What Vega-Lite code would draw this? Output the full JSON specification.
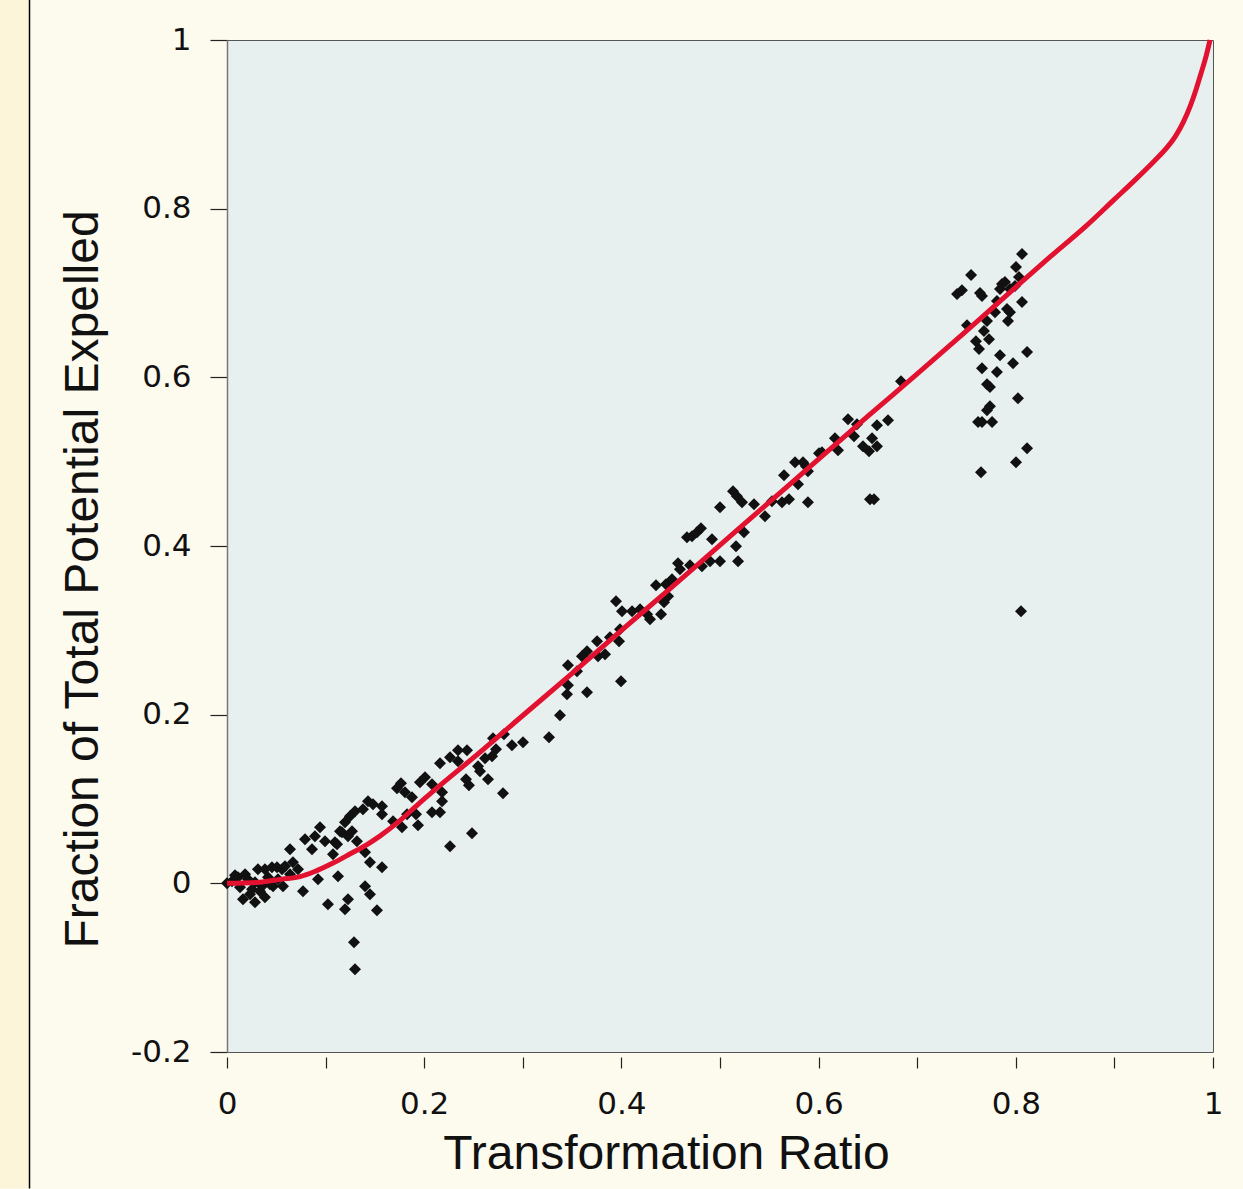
{
  "$schema": "https://vega.github.io/schema/vega-lite/v6.json",
  "width": 986,
  "height": 1012,
  "autosize": "none",
  "padding": {"left": 227, "top": 40, "right": 30, "bottom": 137},
  "background": "#fdfaee",
  "view": {"fill": "#e8f0ef", "stroke": "#555", "strokeWidth": 1},
  "config": {"font": "Liberation Sans"},
  "datasets": {
    "pts": [
      {"x":0,"y":0},{"x":0.0112,"y":0.0071},{"x":0.0183,"y":0.0107},{"x":0.0162,"y":-0.019},{"x":0.0233,"y":-0.013},
      {"x":0.0284,"y":-0.0225},{"x":0.0314,"y":0.0166},{"x":0.0385,"y":0.0166},{"x":0.0385,"y":-0.0166},{"x":0.0456,"y":0.019},
      {"x":0.0507,"y":0.019},{"x":0.0558,"y":0.0166},{"x":0.0588,"y":0.0202},{"x":0.0568,"y":-0.0036},{"x":0.0284,"y":0.0012},
      {"x":0.0355,"y":-0.0036},{"x":0.0467,"y":-0.0036},{"x":0.0639,"y":0.0403},{"x":0.0669,"y":0.0249},{"x":0.072,"y":0.0166},
      {"x":0.0771,"y":-0.0095},{"x":0.0791,"y":0.0522},{"x":0.0862,"y":0.0403},{"x":0.0892,"y":0.0558},{"x":0.0943,"y":0.0664},
      {"x":0.0923,"y":0.0047},{"x":0.0994,"y":0.0498},{"x":0.1075,"y":0.0344},{"x":0.1095,"y":0.0486},{"x":0.1126,"y":0.0083},
      {"x":0.1166,"y":0.0605},{"x":0.1197,"y":0.0724},{"x":0.1024,"y":-0.0249},{"x":0.1197,"y":-0.0308},{"x":0.1227,"y":-0.019},
      {"x":0.1247,"y":0.0795},{"x":0.1268,"y":0.0617},{"x":0.1227,"y":0.0558},{"x":0.1298,"y":0.0854},{"x":0.1318,"y":0.0498},
      {"x":0.1379,"y":0.0878},{"x":0.143,"y":0.0973},{"x":0.1481,"y":0.0937},{"x":0.1572,"y":0.0913},{"x":0.1572,"y":0.0819},
      {"x":0.14,"y":0.0368},{"x":0.145,"y":0.0249},{"x":0.1572,"y":0.019},{"x":0.14,"y":-0.0036},{"x":0.145,"y":-0.013},
      {"x":0.1521,"y":-0.032},{"x":0.1288,"y":-0.07},{"x":0.1298,"y":-0.102},{"x":0.1116,"y":0.0463},{"x":0.1146,"y":0.0617},
      {"x":0.0213,"y":0.0047},{"x":0.0416,"y":0.0071},{"x":0.0517,"y":0.0047},{"x":0.0639,"y":0.0107},{"x":0.0051,"y":0.0024},
      {"x":0.0132,"y":-0.0047},{"x":0.0254,"y":-0.0071},{"x":0.0335,"y":-0.0095},{"x":0.0436,"y":-0.0012},{"x":0.0081,"y":0.0095},
      {"x":0.1684,"y":0.0735},{"x":0.1775,"y":0.0664},{"x":0.1765,"y":0.1186},{"x":0.1724,"y":0.1127},{"x":0.1805,"y":0.1079},
      {"x":0.1876,"y":0.102},{"x":0.1826,"y":0.0819},{"x":0.1917,"y":0.0819},{"x":0.1937,"y":0.0688},{"x":0.1957,"y":0.1198},
      {"x":0.2008,"y":0.1257},{"x":0.2079,"y":0.1174},{"x":0.2079,"y":0.0842},{"x":0.216,"y":0.0842},{"x":0.2181,"y":0.1079},
      {"x":0.2181,"y":0.0973},{"x":0.216,"y":0.1423},{"x":0.2262,"y":0.1495},{"x":0.2343,"y":0.1578},{"x":0.2343,"y":0.1447},
      {"x":0.2434,"y":0.1578},{"x":0.2424,"y":0.1234},{"x":0.2454,"y":0.1163},{"x":0.2485,"y":0.0593},{"x":0.2262,"y":0.0439},
      {"x":0.2546,"y":0.1388},{"x":0.2566,"y":0.1329},
      {"x":0.2617,"y":0.1483},{"x":0.2688,"y":0.1507},{"x":0.2728,"y":0.159},{"x":0.2698,"y":0.172},{"x":0.2809,"y":0.1768},
      {"x":0.289,"y":0.1637},{"x":0.3002,"y":0.1673},{"x":0.3266,"y":0.1732},{"x":0.3377,"y":0.1993},{"x":0.2647,"y":0.1234},
      {"x":0.2799,"y":0.1068},
      {"x":0.3448,"y":0.2242},{"x":0.3458,"y":0.2349},{"x":0.3458,"y":0.2586},{"x":0.355,"y":0.2515},{"x":0.36,"y":0.2693},
      {"x":0.3651,"y":0.2752},{"x":0.3651,"y":0.2266},{"x":0.3763,"y":0.2693},{"x":0.3834,"y":0.2716},{"x":0.3753,"y":0.2871},
      {"x":0.3884,"y":0.2918},{"x":0.3976,"y":0.2871},{"x":0.3986,"y":0.3013},{"x":0.3996,"y":0.2396},{"x":0.3945,"y":0.3345},
      {"x":0.4006,"y":0.3227},{"x":0.4108,"y":0.3227},{"x":0.4189,"y":0.325},{"x":0.426,"y":0.3191},{"x":0.429,"y":0.3132},
      {"x":0.4402,"y":0.3191},{"x":0.4432,"y":0.3333},{"x":0.4473,"y":0.3405},{"x":0.4351,"y":0.3535},{"x":0.4452,"y":0.3547},
      {"x":0.4513,"y":0.3606},{"x":0.4574,"y":0.3796},{"x":0.4594,"y":0.3725},{"x":0.4696,"y":0.3772},{"x":0.4817,"y":0.376},
      {"x":0.4899,"y":0.382},{"x":0.5,"y":0.382},{"x":0.5183,"y":0.382},
      {"x":0.4665,"y":0.4104},{"x":0.4716,"y":0.4116},{"x":0.4767,"y":0.4164},{"x":0.4807,"y":0.4211},{"x":0.4919,"y":0.4081},
      {"x":0.5,"y":0.446},{"x":0.5132,"y":0.465},{"x":0.5172,"y":0.4591},{"x":0.5223,"y":0.452},{"x":0.5243,"y":0.4164},
      {"x":0.5162,"y":0.3998},{"x":0.5345,"y":0.4496},{"x":0.5456,"y":0.4353},{"x":0.5527,"y":0.4531},{"x":0.5629,"y":0.452},
      {"x":0.57,"y":0.4555},{"x":0.5649,"y":0.484},{"x":0.5761,"y":0.4994},{"x":0.5791,"y":0.4733},{"x":0.5842,"y":0.4994},
      {"x":0.5872,"y":0.4947},{"x":0.5892,"y":0.4887},{"x":0.5892,"y":0.452},{"x":0.6004,"y":0.5101},
      {"x":0.6034,"y":0.5113},{"x":0.6166,"y":0.5279},{"x":0.6197,"y":0.5136},{"x":0.6298,"y":0.5504},{"x":0.6359,"y":0.5302},
      {"x":0.6389,"y":0.5445},{"x":0.645,"y":0.5184},{"x":0.6511,"y":0.5125},{"x":0.6542,"y":0.5279},{"x":0.6592,"y":0.5433},
      {"x":0.6592,"y":0.5184},{"x":0.6704,"y":0.5492},{"x":0.6521,"y":0.4555},{"x":0.6562,"y":0.4555},{"x":0.6836,"y":0.5955},
      {"x":0.8063,"y":0.7461},{"x":0.8002,"y":0.7307},{"x":0.8032,"y":0.7189},{"x":0.7546,"y":0.7212},{"x":0.7454,"y":0.7034},
      {"x":0.7404,"y":0.6987},{"x":0.7637,"y":0.6999},{"x":0.7657,"y":0.6963},{"x":0.786,"y":0.7106},{"x":0.789,"y":0.7129},
      {"x":0.784,"y":0.7046},{"x":0.7941,"y":0.7046},{"x":0.7992,"y":0.7082},{"x":0.7809,"y":0.6904},{"x":0.7789,"y":0.6773},
      {"x":0.7911,"y":0.6809},{"x":0.7941,"y":0.6773},{"x":0.7921,"y":0.6667},{"x":0.8063,"y":0.6892},{"x":0.7708,"y":0.6667},
      {"x":0.7505,"y":0.6619},{"x":0.7677,"y":0.6548},{"x":0.7596,"y":0.6429},{"x":0.7627,"y":0.6335},{"x":0.7728,"y":0.6453},
      {"x":0.784,"y":0.6263},{"x":0.8114,"y":0.6299},{"x":0.7972,"y":0.6168},{"x":0.7657,"y":0.6109},{"x":0.7809,"y":0.6062},
      {"x":0.7708,"y":0.5919},{"x":0.7738,"y":0.5884},{"x":0.8022,"y":0.5753},{"x":0.7738,"y":0.5658},{"x":0.7708,"y":0.5611},
      {"x":0.7617,"y":0.5469},{"x":0.7657,"y":0.5469},{"x":0.7759,"y":0.5469},{"x":0.8114,"y":0.516},{"x":0.8002,"y":0.4994},
      {"x":0.7647,"y":0.4875},{"x":0.8053,"y":0.3227}
    ],
    "curve": [
      {"x":0,"y":0},{"x":0.03,"y":0.001},{"x":0.056,"y":0.005},{"x":0.074,"y":0.008},{"x":0.089,"y":0.014},
      {"x":0.1075,"y":0.024},{"x":0.125,"y":0.035},{"x":0.142,"y":0.046},{"x":0.155,"y":0.056},{"x":0.175,"y":0.074},
      {"x":0.196,"y":0.096},{"x":0.22,"y":0.12},{"x":0.25,"y":0.149},{"x":0.3,"y":0.199},{"x":0.35,"y":0.249},
      {"x":0.4,"y":0.3},{"x":0.45,"y":0.35},{"x":0.5,"y":0.401},{"x":0.55,"y":0.452},{"x":0.6,"y":0.503},
      {"x":0.65,"y":0.554},{"x":0.7,"y":0.604},{"x":0.75,"y":0.655},{"x":0.8,"y":0.707},{"x":0.835,"y":0.743},
      {"x":0.87,"y":0.778},{"x":0.9,"y":0.811},{"x":0.92,"y":0.833},{"x":0.94,"y":0.856},{"x":0.953,"y":0.872},
      {"x":0.962,"y":0.886},{"x":0.97,"y":0.903},{"x":0.977,"y":0.922},{"x":0.983,"y":0.942},{"x":0.988,"y":0.961},
      {"x":0.993,"y":0.981},{"x":0.997,"y":1.0}
    ]
  },
  "layer": [
    {
      "data": {"values": [{}]},
      "mark": {"type": "rect", "fill": "#fdf5da", "clip": false},
      "encoding": {
        "x": {"datum": -0.2302, "type": "quantitative"},
        "x2": {"datum": -0.2008},
        "y": {"datum": -0.362, "type": "quantitative"},
        "y2": {"datum": 1.049}
      }
    },
    {
      "data": {"values": [{}]},
      "mark": {"type": "rule", "stroke": "#000", "strokeWidth": 1.5, "clip": false},
      "encoding": {
        "x": {"datum": -0.2003, "type": "quantitative"},
        "y": {"datum": -0.362, "type": "quantitative"},
        "y2": {"datum": 1.049}
      }
    },
    {
      "data": {"name": "pts"},
      "mark": {"type": "point", "shape": "diamond", "filled": true, "size": 144, "color": "#111111", "opacity": 1, "strokeWidth": 0},
      "encoding": {
        "x": {
          "field": "x", "type": "quantitative",
          "scale": {"domain": [0, 1], "nice": false, "zero": false},
          "axis": {
            "values": [0, 0.1, 0.2, 0.3, 0.4, 0.5, 0.6, 0.7, 0.8, 0.9, 1],
            "format": "~g",
            "labelExpr": "round(datum.value*10) % 2 == 0 ? datum.label : ''",
            "domain": false, "offset": 5, "tickSize": 11, "tickColor": "#222", "tickWidth": 1.2,
            "grid": false,
            "labelFont": "DejaVu Sans", "labelFontSize": 31, "labelPadding": 21, "labelColor": "#111",
            "labelFlush": false, "labelOverlap": false,
            "title": "Transformation Ratio", "titleFontSize": 48, "titleFontWeight": "normal", "titleColor": "#111",
            "titleX": 439, "titleY": 111, "titleBaseline": "alphabetic", "titleAlign": "center"
          }
        },
        "y": {
          "field": "y", "type": "quantitative",
          "scale": {"domain": [-0.2, 1], "nice": false, "zero": false},
          "axis": {
            "values": [-0.2, 0, 0.2, 0.4, 0.6, 0.8, 1],
            "format": "~g",
            "labelExpr": "replace(datum.label, '\u2212', '-')",
            "domain": true, "domainColor": "#777", "domainWidth": 1.5,
            "tickSize": 17, "tickColor": "#222", "tickWidth": 1.2,
            "grid": false,
            "labelFont": "DejaVu Sans", "labelFontSize": 31, "labelPadding": 19, "labelColor": "#111",
            "labelFlush": false, "labelOverlap": false,
            "title": "Fraction of Total Potential Expelled", "titleFontSize": 48, "titleFontWeight": "normal", "titleColor": "#111",
            "titleAngle": -90, "titleX": -130, "titleY": 539, "titleBaseline": "alphabetic", "titleAlign": "center"
          }
        }
      }
    },
    {
      "data": {"name": "curve"},
      "mark": {"type": "line", "color": "#e1112f", "strokeWidth": 5, "interpolate": "monotone"},
      "encoding": {
        "x": {"field": "x", "type": "quantitative"},
        "y": {"field": "y", "type": "quantitative"}
      }
    }
  ]
}
